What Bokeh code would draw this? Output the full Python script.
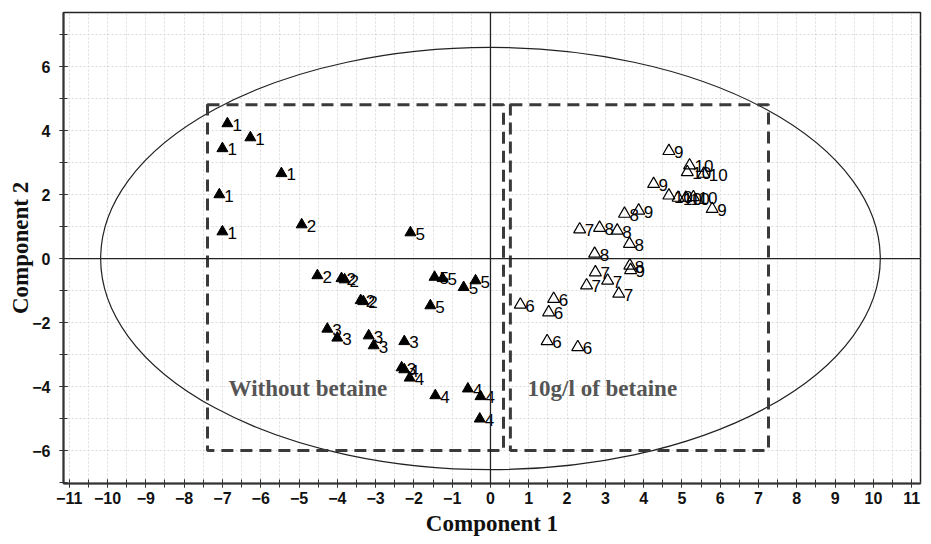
from bokeh.plotting import figure
from bokeh.models import (ColumnDataSource, Range1d, FixedTicker, Span, Label)
from bokeh.core.properties import value
from bokeh.embed import file_html
from bokeh.resources import INLINE
import numpy as np

# ---- data ----
# Without betaine: groups 1-5 (filled triangles)
g1_x = [-6.87, -7.00, -6.27, -5.46, -7.08, -7.00]
g1_y = [4.22, 3.44, 3.78, 2.66, 2.00, 0.84]
g2_x = [-4.93, -4.52, -3.89, -3.81, -3.39, -3.32]
g2_y = [1.06, -0.53, -0.62, -0.66, -1.31, -1.34]
g3_x = [-4.26, -4.00, -3.18, -3.05, -2.25, -2.32]
g3_y = [-2.20, -2.48, -2.41, -2.72, -2.59, -3.41]
g4_x = [-2.25, -2.11, -1.44, -0.59, -0.26, -0.28]
g4_y = [-3.47, -3.73, -4.28, -4.07, -4.31, -5.01]
g5_x = [-2.09, -1.46, -1.25, -0.70, -0.39, -1.57]
g5_y = [0.81, -0.58, -0.62, -0.90, -0.69, -1.47]
# 10 g/l of betaine: groups 6-10 (open triangles)
g6_x = [0.78, 1.65, 1.52, 1.48, 2.28]
g6_y = [-1.44, -1.26, -1.68, -2.58, -2.77]
g7_x = [2.33, 2.74, 2.51, 3.06, 3.35]
g7_y = [0.91, -0.43, -0.84, -0.69, -1.10]
g8_x = [2.85, 3.31, 3.50, 3.63, 2.72, 3.64]
g8_y = [0.96, 0.875, 1.40, 0.46, 0.15, -0.22]
g9_x = [3.66, 3.87, 4.26, 4.66, 5.79]
g9_y = [-0.36, 1.50, 2.33, 3.36, 1.55]
g10_x = [5.20, 5.14, 5.57, 4.66, 4.90, 5.10, 5.30]
g10_y = [2.91, 2.70, 2.65, 1.97, 1.90, 1.90, 1.92]

x_ticks = list(range(-11, 12))
y_ticks = [-6, -4, -2, 0, 2, 4, 6]

# ellipse (Hotelling T2) and dashed group boxes
ell_w, ell_h = 20.36, 13.2
box_left = (-7.39, 0.34, -6.0, 4.81)   # x0, x1, y0, y1
box_right = (0.52, 7.26, -6.0, 4.81)

filled_groups = [(g1_x, g1_y, "1"), (g2_x, g2_y, "2"), (g3_x, g3_y, "3"),
                 (g4_x, g4_y, "4"), (g5_x, g5_y, "5")]
open_groups = [(g6_x, g6_y, "6"), (g7_x, g7_y, "7"), (g8_x, g8_y, "8"),
               (g9_x, g9_y, "9"), (g10_x, g10_y, "10")]


def make_source(groups):
    xs, ys, labs = [], [], []
    for gx, gy, lab in groups:
        xs += gx
        ys += gy
        labs += [lab] * len(gx)
    return ColumnDataSource(dict(x=xs, y=ys, lab=labs))


src_f = make_source(filled_groups)
src_o = make_source(open_groups)

p = figure(width=931, height=544, output_backend="svg", toolbar_location=None,
           x_range=Range1d(-11.15, 11.23), y_range=Range1d(-7.03, 7.69),
           min_border_left=63, min_border_right=11, min_border_top=12,
           min_border_bottom=61)
p.background_fill_color = "white"
p.border_fill_color = "white"
p.outline_line_color = "#222222"
p.outline_line_width = 1.5

# grids
p.xgrid.ticker = FixedTicker(ticks=list(np.arange(-11, 11.01, 0.5)))
p.ygrid.ticker = FixedTicker(ticks=list(range(-7, 8)))
for g in (p.xgrid, p.ygrid):
    g.grid_line_color = "#dadada"
    g.grid_line_dash = "2 2"
    g.grid_line_width = 1

# axes
p.xaxis.ticker = FixedTicker(ticks=x_ticks, minor_ticks=list(np.arange(-11, 11.01, 0.5)))
p.yaxis.ticker = FixedTicker(ticks=y_ticks, minor_ticks=list(range(-7, 8)))
for ax in (p.xaxis, p.yaxis):
    ax.axis_line_width = 2
    ax.axis_line_color = "#333333"
    ax.major_tick_in = 4
    ax.major_tick_out = 4
    ax.minor_tick_in = 4
    ax.minor_tick_out = 4
    ax.major_tick_line_color = "#333333"
    ax.minor_tick_line_color = "#333333"
    ax.major_label_text_font = "Liberation Sans"
    ax.major_label_text_font_style = "bold"
    ax.major_label_text_font_size = "16px"
    ax.major_label_text_color = "#111111"
    ax.axis_label_text_font = "Liberation Serif"
    ax.axis_label_text_font_style = "bold"
    ax.axis_label_text_font_size = "23px"
    ax.axis_label_text_color = "#111111"
p.xaxis.axis_label = "Component 1"
p.yaxis.axis_label = "Component 2"
p.xaxis.major_label_standoff = 4
p.xaxis.axis_label_standoff = 4
p.yaxis.major_label_standoff = 9
p.yaxis.axis_label_standoff = -4

# zero lines
p.add_layout(Span(location=0, dimension="width", line_color="#222222", line_width=1.3))
p.add_layout(Span(location=0, dimension="height", line_color="#222222", line_width=1.3))

# ellipse
p.ellipse(x=0, y=0, width=ell_w, height=ell_h, fill_color=None,
          line_color="#222222", line_width=1.2)

# dashed boxes
for (x0, x1, y0, y1) in (box_left, box_right):
    p.quad(left=x0, right=x1, bottom=y0, top=y1, fill_color=None,
           line_color="#3a3a3a", line_width=3, line_dash="12 7")

# annotation texts
for tx, txt in ((-6.84, "Without betaine"), (0.97, "10g/l of betaine")):
    p.add_layout(Label(x=tx, y=-4.06, text=txt, text_font="Liberation Serif",
                       text_font_style="bold", text_font_size="23px", text_color="#555555",
                       text_baseline="middle"))

# points
p.scatter("x", "y", source=src_f, marker="triangle", size=11,
          fill_color="black", line_color="black")
p.scatter("x", "y", source=src_o, marker="triangle", size=12,
          fill_color=None, line_color="black", line_width=1.2)
for s in (src_f, src_o):
    p.text("x", "y", text="lab", source=s, x_offset=5, y_offset=1,
           text_font=value("Liberation Sans"), text_font_size="17px", text_color="black",
           text_baseline="middle", text_align="left")

open("out.html", "w").write(file_html(p, INLINE))
